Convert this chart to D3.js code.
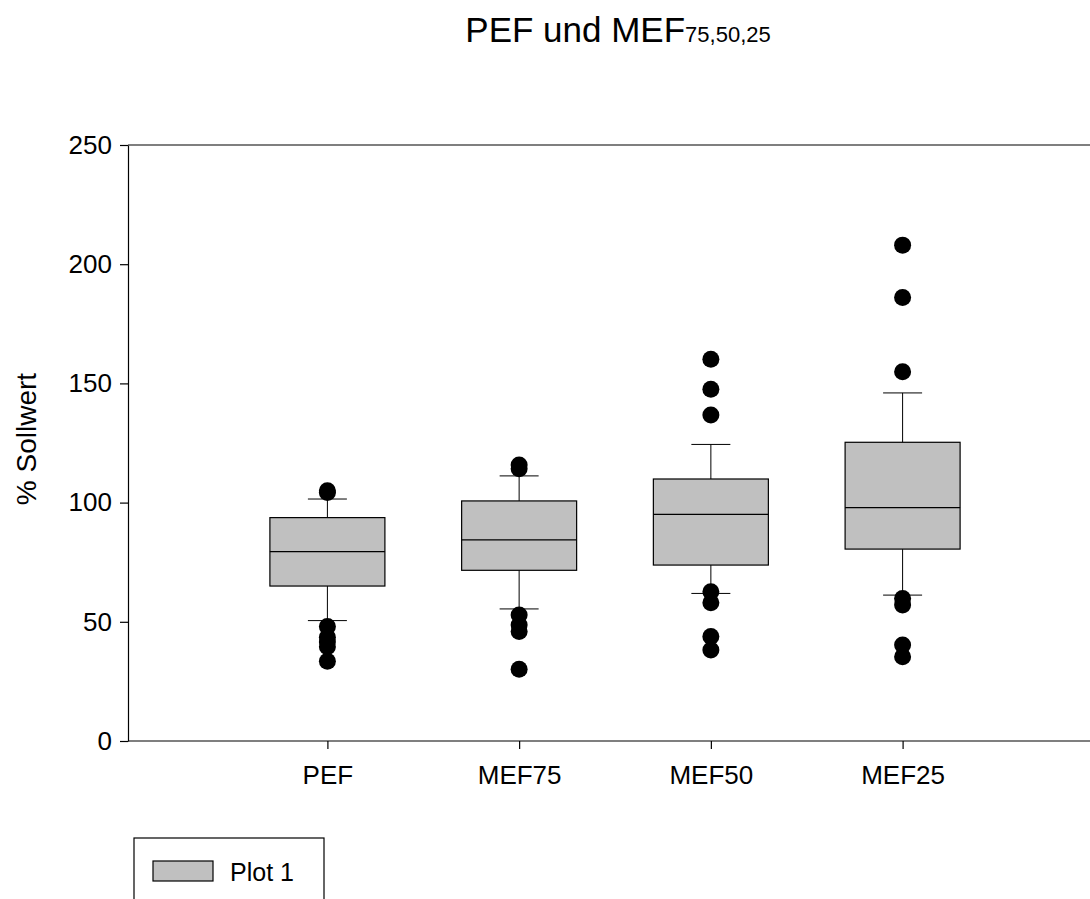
<!DOCTYPE html>
<html>
<head>
<meta charset="utf-8">
<script src="https://cdn.jsdelivr.net/npm/d3@7"></script>
<style>
  body { margin: 0; background: #fff; }
  text { font-family: "Liberation Sans", Arial, sans-serif; fill: #000; }
</style>
</head>
<body>
<svg id="chart" width="1090" height="899"></svg>
<script>
// categories and box statistics
const categories = ['PEF', 'MEF75', 'MEF50', 'MEF25']
const q1 = [65.0, 71.6, 73.8, 80.5]
const median = [79.4, 84.4, 95.1, 97.9]
const q3 = [93.7, 100.7, 109.9, 125.3]
const whiskerLow = [50.5, 55.4, 61.9, 61.2]
const whiskerHigh = [101.5, 111.2, 124.4, 146.0]
const outliers = [
  [104.2, 105.0, 48.0, 43.5, 41.5, 39.5, 33.5],
  [115.8, 114.2, 52.9, 48.7, 45.9, 30.1],
  [160.1, 147.5, 136.7, 62.6, 58.0, 43.8, 38.2],
  [208.0, 186.0, 154.9, 59.8, 57.0, 40.3, 35.3]
]
const yTicks = [0, 50, 100, 150, 200, 250]

const width = 1090, height = 899
const marginTop = 145, marginLeft = 128, marginBottom = 158
const boxWidth = 115, capWidth = 39

const svg = d3.select('#chart')

const x = d3.scalePoint(categories, [marginLeft, 1102]).padding(1.04)
const y = d3.scaleLinear([0, 250], [height - marginBottom, marginTop])

// top frame line
svg.append('line')
    .attr('x1', marginLeft).attr('x2', width)
    .attr('y1', y(250)).attr('y2', y(250))
    .attr('stroke', '#000').attr('stroke-width', 1.2)

svg.append('g')
    .attr('transform', `translate(${marginLeft},0)`)
    .call(d3.axisLeft(y).tickValues(yTicks).tickSize(8).tickSizeOuter(0).tickPadding(8))
    .call(g => g.selectAll('text').style('font-size', '26px'))
    .call(g => g.selectAll('line, path').attr('stroke', '#000').attr('stroke-width', 1.2))

svg.append('g')
    .attr('transform', `translate(0,${y(0)})`)
    .call(d3.axisBottom(x).tickSize(8).tickSizeOuter(0).tickPadding(17))
    .call(g => g.select('.domain').attr('d', `M${marginLeft},0H${width}`))
    .call(g => g.selectAll('text').style('font-size', '26px'))
    .call(g => g.selectAll('line, path').attr('stroke', '#000').attr('stroke-width', 1.2))

// boxes
categories.forEach((c, i) => {
  const cx = x(c)
  const g = svg.append('g')

  g.append('line')
      .attr('x1', cx).attr('x2', cx)
      .attr('y1', y(whiskerHigh[i])).attr('y2', y(q3[i]))
      .attr('stroke', '#000')
  g.append('line')
      .attr('x1', cx).attr('x2', cx)
      .attr('y1', y(q1[i])).attr('y2', y(whiskerLow[i]))
      .attr('stroke', '#000')
  ;[whiskerHigh[i], whiskerLow[i]].forEach(v => {
    g.append('line')
        .attr('x1', cx - capWidth / 2).attr('x2', cx + capWidth / 2)
        .attr('y1', y(v)).attr('y2', y(v))
        .attr('stroke', '#000')
  })

  g.append('rect')
      .attr('x', cx - boxWidth / 2)
      .attr('y', y(q3[i]))
      .attr('width', boxWidth)
      .attr('height', y(q1[i]) - y(q3[i]))
      .attr('fill', '#c0c0c0')
      .attr('stroke', '#000').attr('stroke-width', 1.2)

  g.append('line')
      .attr('x1', cx - boxWidth / 2).attr('x2', cx + boxWidth / 2)
      .attr('y1', y(median[i])).attr('y2', y(median[i]))
      .attr('stroke', '#000').attr('stroke-width', 1.2)

  g.selectAll('circle')
    .data(outliers[i])
    .join('circle')
      .attr('cx', cx)
      .attr('cy', d => y(d))
      .attr('r', 8.5)
      .attr('fill', '#000')
})

// title with subscript
const title = svg.append('text')
    .attr('x', 618).attr('y', 42)
    .attr('text-anchor', 'middle')
    .style('font-size', '35px')
title.append('tspan').text('PEF und MEF')
title.append('tspan').style('font-size', '22px').text('75,50,25')

// y label
svg.append('text')
    .attr('transform', `translate(36,439) rotate(-90)`)
    .attr('text-anchor', 'middle')
    .style('font-size', '28px')
    .text('% Sollwert')

// legend
svg.append('rect')
    .attr('x', 134).attr('y', 838)
    .attr('width', 190).attr('height', 80)
    .attr('fill', 'none').attr('stroke', '#000').attr('stroke-width', 1.2)
svg.append('rect')
    .attr('x', 153).attr('y', 861)
    .attr('width', 60).attr('height', 20)
    .attr('fill', '#c0c0c0').attr('stroke', '#000').attr('stroke-width', 1.2)
svg.append('text')
    .attr('x', 230).attr('y', 881)
    .style('font-size', '25px')
    .text('Plot 1')
</script>
</body>
</html>
